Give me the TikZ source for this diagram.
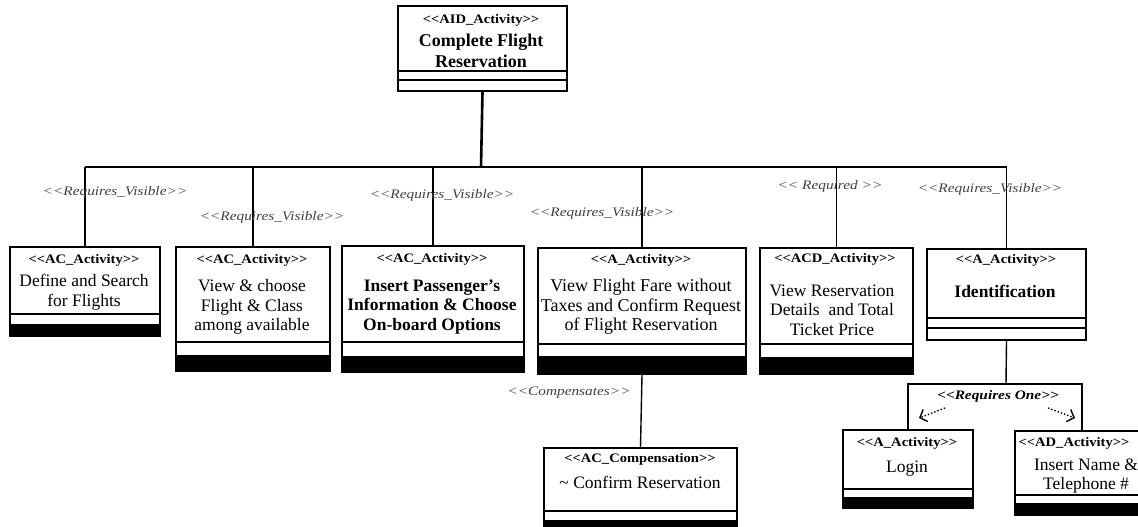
\documentclass[tikz,border=0pt]{standalone}
\usepackage{fontspec}
\setmainfont{Liberation Serif}[Ligatures=TeXOff]
\newfontfamily\stereofont{Liberation Serif}[Ligatures=TeXOff, FakeStretch=1.12]
\newfontfamily\relfont{Liberation Serif}[Ligatures=TeXOff, FakeStretch=1.18]
\usetikzlibrary{arrows.meta}
\tikzset{
  frame/.style={draw, line width=2pt, inner sep=0pt, anchor=north west},
  divider/.style={line width=1.8pt},
  stereo/.style={font=\stereofont\bfseries\fontsize{13}{14}\selectfont, inner sep=0pt},
  actname/.style={font=\fontsize{17.5}{19.5}\selectfont, align=center, inner sep=0pt},
  boldname/.style={actname, font=\bfseries\fontsize{17.5}{19.5}\selectfont},
  rel/.style={font=\relfont\itshape\fontsize{13}{14}\selectfont, text=black!75, inner sep=0pt},
  link/.style={line width=1.4pt},
  trunk/.style={line width=2.6pt},
  choice/.style={dotted, line width=1.4pt, -{Straight Barb[length=6pt,width=13pt,line width=1.4pt]}},
}
% frame of an activity: name, left, right, top, bottom
\newcommand\actframe[5]{%
  \node[frame, minimum width={(#3-#2)*1pt}, minimum height={(#5-#4)*1pt}] (#1) at (#2,#4) {};}
% activity with one empty compartment and a black base bar
\newcommand\barredact[7]{%
  \actframe{#1}{#2}{#3}{#4}{#5}
  \draw[divider] (#2,#6) -- (#3,#6);
  \fill (#2,#7) rectangle (#3,#5);}
% activity with two empty compartments
\newcommand\openact[7]{%
  \actframe{#1}{#2}{#3}{#4}{#5}
  \draw[divider] (#2,#6) -- (#3,#6);
  \draw[divider] (#2,#7) -- (#3,#7);}
\begin{document}
\begin{tikzpicture}[x=1pt,y=-1pt]
\path[use as bounding box, clip] (0,0) rectangle (1138,527);

% root activity
\openact{top}{397}{566}{5}{90}{71}{80}
\node[stereo] (topS) at (481,20) {<<AID\_Activity>>};
\node[boldname, font=\bfseries\fontsize{18}{21}\selectfont] (topN) at (481,51) {Complete Flight\\Reservation};

% child activities
\barredact{c1}{9}{159}{246}{335}{314}{324}
\node[stereo] (c1S) at (84,260) {<<AC\_Activity>>};
\node[actname] (c1N) at (84,292) {Define and Search\\for Flights};

\barredact{c2}{175}{329}{246}{370}{342}{355}
\node[stereo] (c2S) at (252,260) {<<AC\_Activity>>};
\node[actname] (c2N) at (252,307) {View \& choose\\Flight \& Class\\among available};

\barredact{c3}{341}{523}{245}{371}{342}{356}
\node[stereo] (c3S) at (432,259) {<<AC\_Activity>>};
\node[boldname] (c3N) at (432,307) {Insert Passenger’s\\Information \& Choose\\On-board Options};

\barredact{c4}{537}{745}{247}{373}{344}{356}
\node[stereo] (c4S) at (641,260) {<<A\_Activity>>};
\node[actname, font=\fontsize{18}{19.5}\selectfont] (c4N) at (641,307) {View Flight Fare without\\Taxes and Confirm Request\\of Flight Reservation};

\barredact{c5}{759}{912}{247}{373}{344}{357}
\node[stereo] (c5S) at (835,259) {<<ACD\_Activity>>};
\node[actname] (c5N) at (832,310) {View Reservation\\Details~ and Total\\Ticket Price};

\openact{c6}{926}{1085}{248}{339}{318}{328}
\node[stereo] (c6S) at (1006,260) {<<A\_Activity>>};
\node[boldname] (c6N) at (1005,291) {Identification};

% compensation
\barredact{comp}{543}{736}{447}{540}{511}{520}
\node[stereo] (compS) at (640,459) {<<AC\_Compensation>>};
\node[actname] (compN) at (640,482) {\textasciitilde{} Confirm Reservation};

% alternatives of the identification
\barredact{login}{842}{972}{429}{507}{489}{497}
\node[stereo] (loginS) at (907,443) {<<A\_Activity>>};
\node[actname] (loginN) at (907,469) {Login};

\barredact{ad}{1014}{1148}{430}{514}{495}{503}
\node[stereo] (adS) at (1074,443) {<<AD\_Activity>>};
\node[actname] (adN) at (1086,476) {Insert Name \&\\Telephone \#};

% decomposition bus
\coordinate (bus) at (481,167);
\draw[trunk] (top.south) -- (bus);
\draw[trunk] (c1.north |- bus) -- (c6.north |- bus);
\foreach \c in {c1,c2,c3,c4,c5,c6}
  \draw[link] (\c.north) -- (\c.north |- bus);

% relation labels
\node[rel] (r1) at (115,192) {<<Requires\_Visible>>};
\node[rel] (r2) at (272,217) {<<Requires\_Visible>>};
\node[rel] (r3) at (442,195) {<<Requires\_Visible>>};
\node[rel] (r4) at (602,213) {<<Requires\_Visible>>};
\node[rel] (r5) at (830,186) {<< Required >>};
\node[rel] (r6) at (990,189) {<<Requires\_Visible>>};

% compensation link
\draw[link] (c4.south) -- (comp.north);
\node[rel] (r7) at (569,393) {<<Compensates>>};

% exclusive choice
\coordinate (fork) at (1006,384);
\draw[link] (c6.south) -- (fork);
\draw[link] (login.north) |- (fork) -| (ad.north);
\node[rel, text=black, font=\relfont\bfseries\itshape\fontsize{13}{14}\selectfont] (r8) at (998,396) {<<Requires One>>};
\coordinate (a1s) at (945,408);
\coordinate (a1e) at (919,418);
\coordinate (a2s) at (1048,408);
\coordinate (a2e) at (1075,418);
\draw[choice] (a1s) -- (a1e);
\draw[choice] (a2s) -- (a2e);
\end{tikzpicture}
\end{document}
